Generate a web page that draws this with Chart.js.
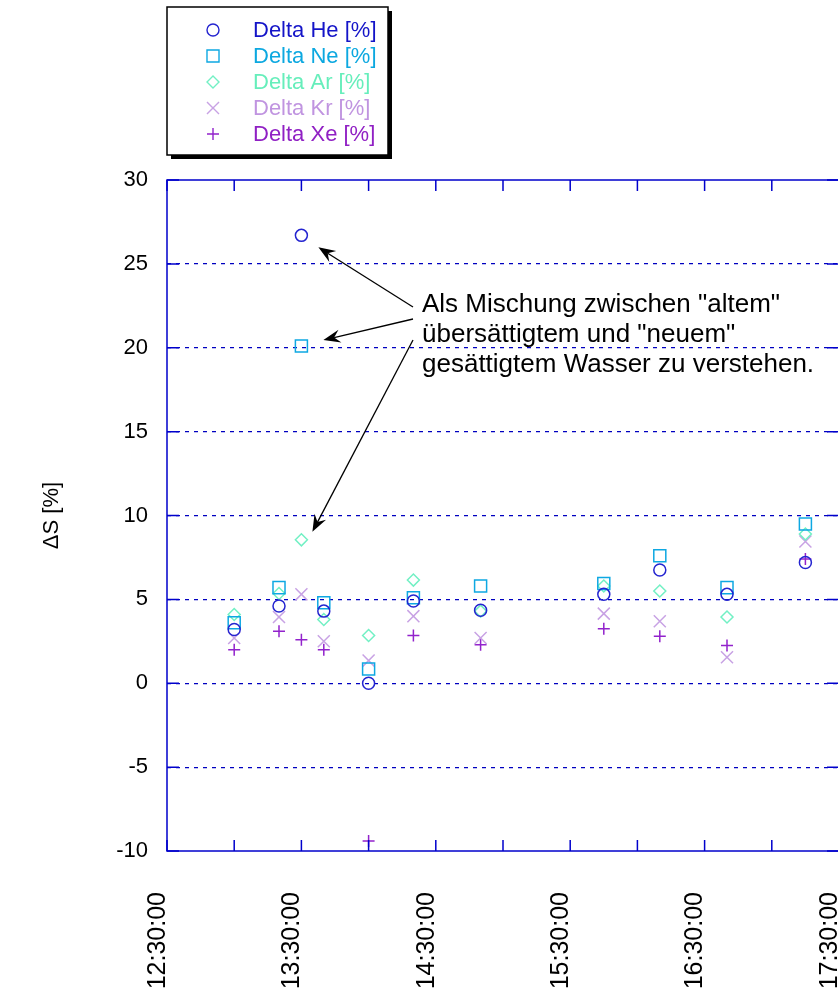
<!DOCTYPE html>
<html lang="de">
<head>
  <meta charset="UTF-8">
  <title>Delta S</title>
  <script src="https://cdn.jsdelivr.net/npm/chart.js"></script>
  <style>
    body { margin: 0; overflow: hidden; background: #fff; }
  </style>
</head>
<body>
  <canvas id="deltaChart" width="849" height="997"></canvas>

  <script>
    // Probenahmezeiten und Abweichungen je Edelgas [%]
    const times   = ['13:00', '13:20', '13:30', '13:40', '14:00', '14:20', '14:50', '15:45', '16:10', '16:40', '17:15'];
    const deltaHe = [3.2, 4.6, 26.7, 4.3, 0.0, 4.9, 4.35, 5.3, 6.75, 5.3, 7.2];
    const deltaNe = [3.6, 5.7, 20.1, 4.8, 0.85, 5.1, 5.8, 5.95, 7.6, 5.7, 9.5];
    const deltaAr = [4.1, 5.35, 8.55, 3.8, 2.85, 6.15, 4.3, 5.8, 5.5, 3.95, 8.9];
    const deltaKr = [2.7, 3.95, 5.3, 2.5, 1.35, 4.0, 2.7, 4.15, 3.7, 1.55, 8.45];
    const deltaXe = [2.0, 3.1, 2.6, 2.0, -9.4, 2.85, 2.3, 3.25, 2.8, 2.25, 7.4];

    const xTickLabels = ['12:30:00', '13:30:00', '14:30:00', '15:30:00', '16:30:00', '17:30:00'];
    const noteLines = ['Als Mischung zwischen "altem"', 'übersättigtem und "neuem"', 'gesättigtem Wasser zu verstehen.'];

    const FONT = "'Liberation Sans', Arial, sans-serif";
    const AXIS_BLUE = '#0000cc';

    const toMin = t => {
      const [h, m] = t.split(':').map(Number);
      return h * 60 + m;
    };
    const fmtTime = v => {
      const h = Math.floor(v / 60), m = v % 60;
      return String(h).padStart(2, '0') + ':' + String(m).padStart(2, '0') + ':00';
    };

    const series = [
      { label: 'Delta He [%]', data: deltaHe, color: '#2424d0', text: '#1414c8', style: 'circle',   radius: 6 },
      { label: 'Delta Ne [%]', data: deltaNe, color: '#0ea8e2', text: '#0ca8e0', style: 'rect',     radius: 8.5 },
      { label: 'Delta Ar [%]', data: deltaAr, color: '#72f0c4', text: '#66eebb', style: 'rectRot',  radius: 6 },
      { label: 'Delta Kr [%]', data: deltaKr, color: '#c8a2e4', text: '#c094e0', style: 'crossRot', radius: 8.5 },
      { label: 'Delta Xe [%]', data: deltaXe, color: '#9222cc', text: '#9020c4', style: 'cross',    radius: 6 }
    ];

    function drawMarker(ctx, style, x, y, r) {
      ctx.beginPath();
      if (style === 'circle') {
        ctx.arc(x, y, r, 0, Math.PI * 2);
      } else if (style === 'rect') {
        const s = r * Math.SQRT1_2;
        ctx.rect(x - s, y - s, 2 * s, 2 * s);
      } else if (style === 'rectRot') {
        ctx.moveTo(x, y - r); ctx.lineTo(x + r, y); ctx.lineTo(x, y + r); ctx.lineTo(x - r, y); ctx.closePath();
      } else if (style === 'crossRot') {
        const s = r * Math.SQRT1_2;
        ctx.moveTo(x - s, y - s); ctx.lineTo(x + s, y + s);
        ctx.moveTo(x - s, y + s); ctx.lineTo(x + s, y - s);
      } else {
        ctx.moveTo(x - r, y); ctx.lineTo(x + r, y);
        ctx.moveTo(x, y - r); ctx.lineTo(x, y + r);
      }
      ctx.stroke();
    }

    function drawArrow(ctx, x1, y1, x2, y2) {
      const ang = Math.atan2(y2 - y1, x2 - x1);
      const len = 17, half = 6.5, notch = 11;
      const cos = Math.cos(ang), sin = Math.sin(ang);
      ctx.beginPath();
      ctx.moveTo(x1, y1);
      ctx.lineTo(x2 - cos * notch, y2 - sin * notch);
      ctx.stroke();
      ctx.beginPath();
      ctx.moveTo(x2, y2);
      ctx.lineTo(x2 - cos * len - sin * half, y2 - sin * len + cos * half);
      ctx.lineTo(x2 - cos * notch, y2 - sin * notch);
      ctx.lineTo(x2 - cos * len + sin * half, y2 - sin * len - cos * half);
      ctx.closePath();
      ctx.fill();
    }

    // Rahmen mit nach innen zeigenden Ticks
    const framePlugin = {
      id: 'frame',
      afterDatasetsDraw(chart) {
        const { ctx, chartArea: a, scales: { x, y } } = chart;
        ctx.save();
        ctx.strokeStyle = AXIS_BLUE;
        ctx.lineWidth = 1.5;
        ctx.strokeRect(a.left, a.top, a.right - a.left, a.bottom - a.top);
        ctx.beginPath();
        x.ticks.forEach(t => {
          const px = x.getPixelForValue(t.value);
          ctx.moveTo(px, a.bottom); ctx.lineTo(px, a.bottom - 11);
          ctx.moveTo(px, a.top); ctx.lineTo(px, a.top + 11);
        });
        y.ticks.forEach(t => {
          const py = y.getPixelForValue(t.value);
          ctx.moveTo(a.left, py); ctx.lineTo(a.left + 12, py);
          ctx.moveTo(a.right, py); ctx.lineTo(a.right - 12, py);
        });
        ctx.stroke();
        ctx.restore();
      }
    };

    // Legende oben links mit Schatten
    const legendPlugin = {
      id: 'boxLegend',
      afterDraw(chart) {
        const ctx = chart.ctx;
        ctx.save();
        ctx.fillStyle = '#000';
        ctx.fillRect(171, 11, 221, 148);
        ctx.fillStyle = '#fff';
        ctx.fillRect(167, 7, 221, 148);
        ctx.strokeStyle = '#000';
        ctx.lineWidth = 1.5;
        ctx.strokeRect(167, 7, 221, 148);
        ctx.font = '22px ' + FONT;
        ctx.textBaseline = 'middle';
        series.forEach((s, i) => {
          const cy = 30 + i * 26;
          ctx.strokeStyle = s.color;
          ctx.lineWidth = 1.4;
          drawMarker(ctx, s.style, 213, cy, s.radius);
          ctx.fillStyle = s.text;
          ctx.fillText(s.label, 253, cy + 1);
        });
        ctx.restore();
      }
    };

    // Kommentar mit Pfeilen auf die Ausreißer um 13:30
    const notePlugin = {
      id: 'note',
      afterDraw(chart) {
        const { ctx, scales: { x, y } } = chart;
        const px = x.getPixelForValue(toMin(times[2]));
        ctx.save();
        ctx.fillStyle = '#000';
        ctx.strokeStyle = '#000';
        ctx.lineWidth = 1.3;
        ctx.font = '26px ' + FONT;
        ctx.textBaseline = 'alphabetic';
        noteLines.forEach((line, i) => ctx.fillText(line, 422, 312 + i * 30));
        drawArrow(ctx, 413, 307, px + 17, y.getPixelForValue(deltaHe[2]) + 12);
        drawArrow(ctx, 413, 319, px + 22, y.getPixelForValue(deltaNe[2]) - 6);
        drawArrow(ctx, 413, 340, px + 11, y.getPixelForValue(deltaAr[2]) - 8);
        ctx.restore();
      }
    };

    const ctx = document.getElementById('deltaChart').getContext('2d');
    new Chart(ctx, {
      type: 'scatter',
      data: {
        datasets: series.map(s => ({
          label: s.label,
          data: times.map((t, i) => ({ x: toMin(t), y: s.data[i] })),
          pointStyle: s.style,
          pointRadius: s.radius,
          pointHoverRadius: s.radius,
          pointBorderWidth: 1.5,
          pointBorderColor: s.color,
          pointBackgroundColor: 'rgba(0,0,0,0)',
          showLine: false
        }))
      },
      options: {
        responsive: false,
        animation: false,
        layout: { padding: { top: 180, right: 0, left: 0, bottom: 0 } },
        plugins: {
          legend: { display: false },
          tooltip: { enabled: false }
        },
        scales: {
          x: {
            type: 'linear',
            min: toMin('12:30'),
            max: toMin('17:30'),
            grid: { display: false, drawTicks: false },
            border: { display: false },
            ticks: {
              stepSize: 30,
              autoSkip: false,
              minRotation: 90,
              maxRotation: 90,
              padding: 41,
              labelOffset: -9,
              color: '#000',
              font: { family: FONT, size: 25 },
              callback: v => {
                const lbl = fmtTime(v);
                return xTickLabels.includes(lbl) ? lbl : '';
              }
            },
            afterFit: scale => {
              scale.height = 146;
              scale.paddingLeft = 0;
              scale.paddingRight = 0;
            }
          },
          y: {
            min: -10,
            max: 30,
            grid: {
              drawTicks: false,
              lineWidth: 1.2,
              color: c => (c.tick.value === 30 || c.tick.value === -10) ? 'rgba(0,0,0,0)' : '#0000c0'
            },
            border: { display: false, dash: [4, 5] },
            ticks: {
              stepSize: 5,
              padding: 19,
              color: '#000',
              font: { family: FONT, size: 22 }
            },
            title: {
              display: true,
              text: 'ΔS [%]',
              color: '#000',
              font: { family: FONT, size: 22 },
              padding: { top: 39, bottom: 0 }
            },
            afterFit: scale => { scale.width = 167; }
          }
        }
      },
      plugins: [framePlugin, legendPlugin, notePlugin]
    });
  </script>
</body>
</html>
